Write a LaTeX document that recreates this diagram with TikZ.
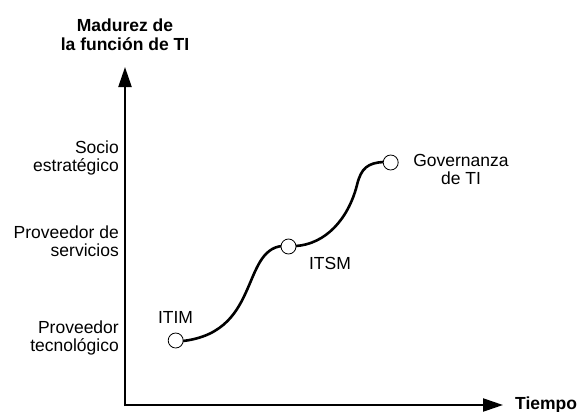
\documentclass[tikz,border=0pt]{standalone}
\usepackage{fontspec}
\setmainfont{Liberation Sans}
\usetikzlibrary{arrows.meta}
\begin{document}
\begin{tikzpicture}[x=1pt,y=-1pt,
  font=\fontsize{17.5}{18}\selectfont,
  axis/.style={line width=2.2pt,-{Triangle[length=20pt,width=13pt]}},
  dot/.style={circle,draw,line width=0.8pt,fill=white,minimum size=15pt,inner sep=0pt},
  curve/.style={line width=2.6pt},
  ylab/.style={align=right,anchor=east,inner sep=0pt},
  tlab/.style={align=center,inner sep=0pt},
  bold/.style={font=\fontsize{17.5}{19}\selectfont\bfseries}]
\useasboundingbox (0,0) rectangle (578,412);
% axes
\coordinate (ytip) at (125,67);
\coordinate (xtip) at (503,405);
\draw[axis] (125,406.1) -- (ytip);
\draw[axis] (123.9,405) -- (xtip);
% axis titles
\node[tlab,bold] (ytitle) at (125,35) {Madurez de\\la función de TI};
\node[bold,anchor=west,inner sep=0pt] (xtitle) at (515,405) {Tiempo};
% level labels
\node[ylab] (l3) at (119,158) {Socio\\estratégico};
\node[ylab] (l2) at (119,241) {Proveedor de\\servicios};
\node[ylab] (l1) at (119,337.5) {Proveedor\\tecnológico};
% curve
\coordinate (m1) at (247,290);
\coordinate (m2) at (357,185);
\draw[curve] (183,341) .. controls (225,336) and (238,310) .. (m1)
  .. controls (256,270) and (262,248) .. (282,246);
\draw[curve] (296,246) .. controls (325,244) and (348,220) .. (m2)
  .. controls (361,168) and (368,163) .. (383,162);
% points
\node[dot] (itim) at (175.7,340.5) {};
\node[dot] (itsm) at (288.5,246.5) {};
\node[dot] (gov) at (390.7,162.5) {};
\node[tlab] (itimlab) at (175.5,317) {ITIM};
\node[tlab] (itsmlab) at (330,263.5) {ITSM};
\node[tlab] (govlab) at (461,169.6) {Governanza\\de TI};
\end{tikzpicture}
\end{document}
